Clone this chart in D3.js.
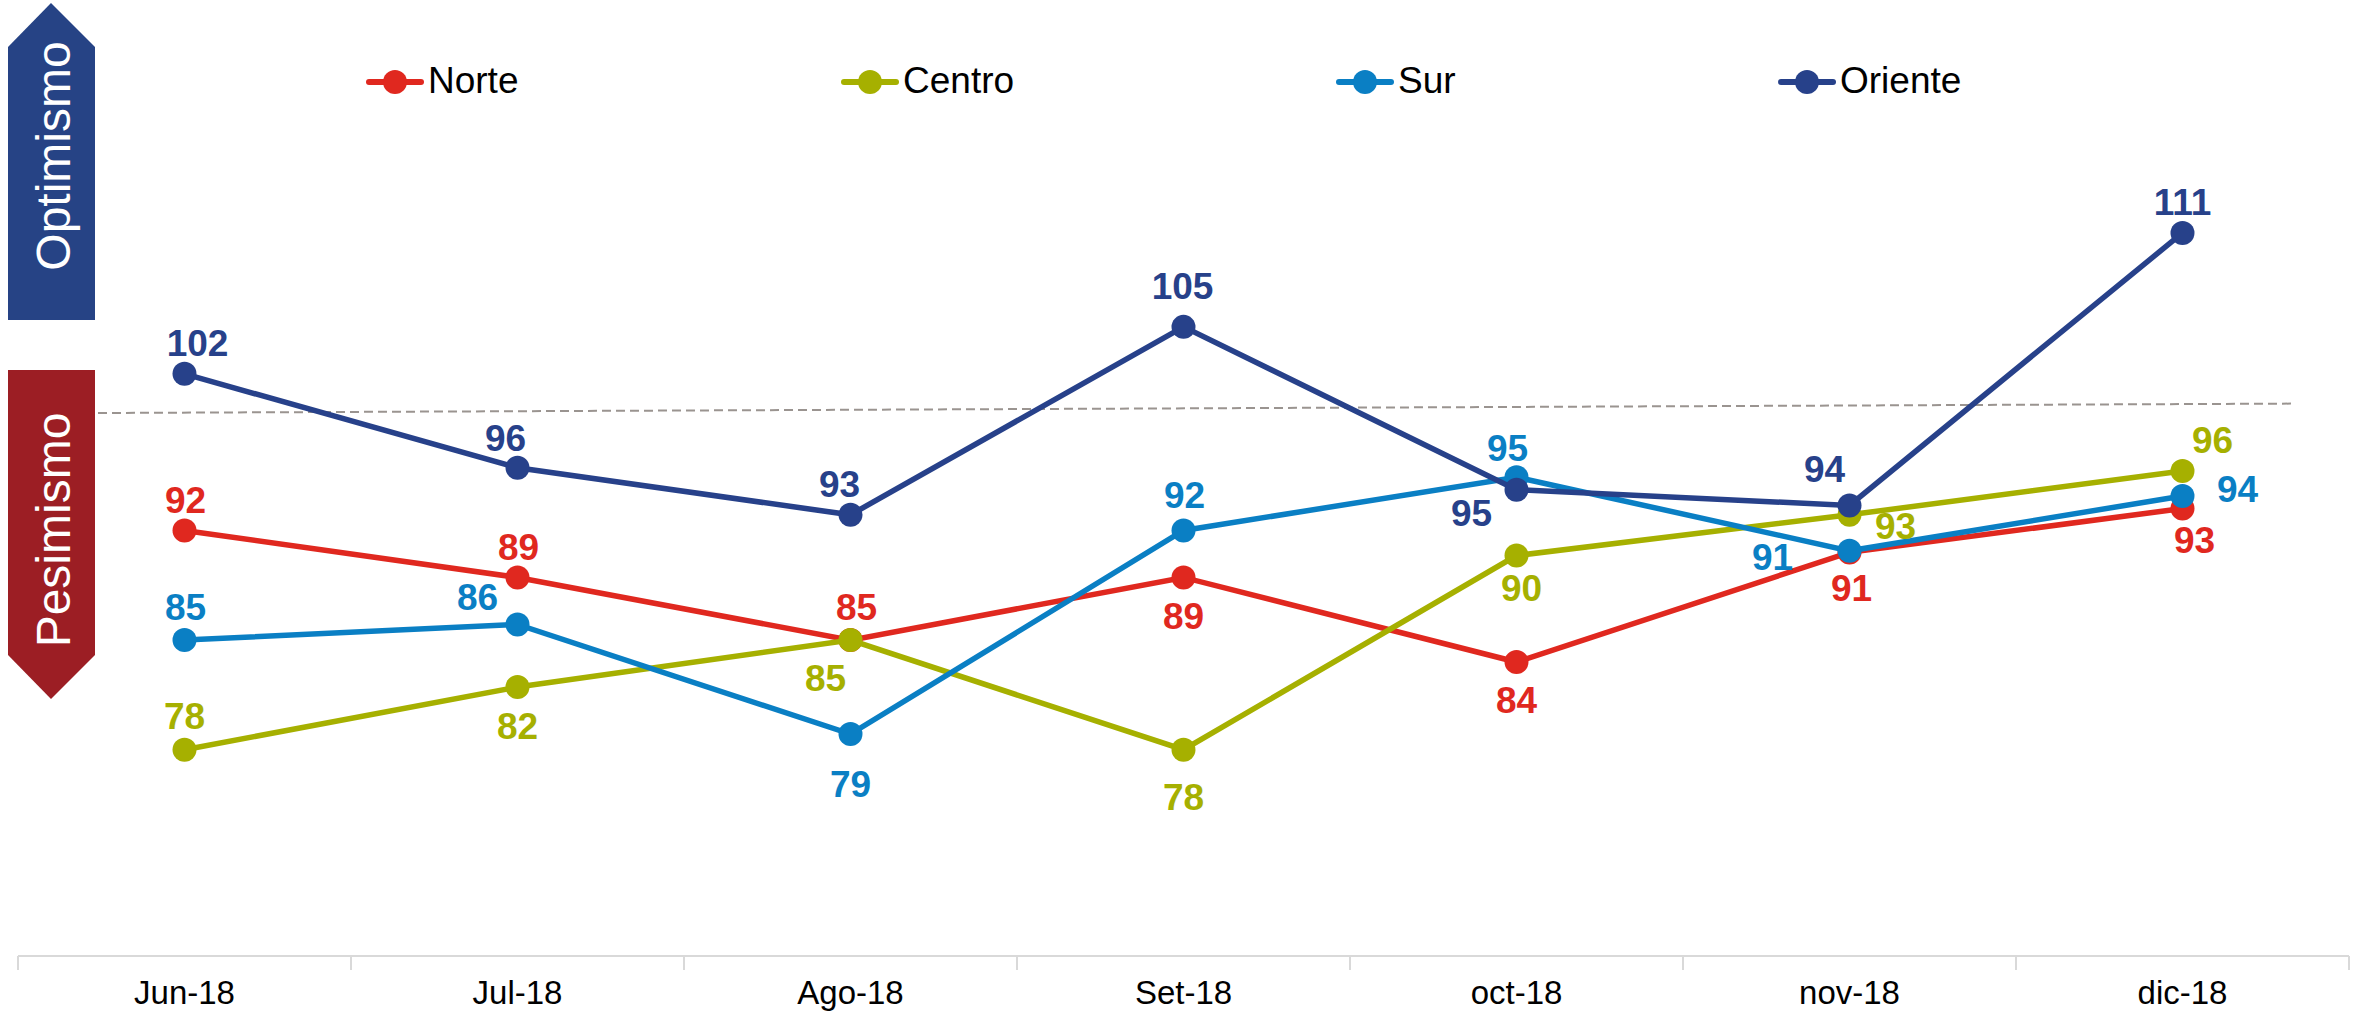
<!DOCTYPE html>
<html>
<head>
<meta charset="utf-8">
<script src="https://cdn.jsdelivr.net/npm/d3@7"></script>
<style>
  body { margin: 0; background: #fff; }
  svg { display: block; }
  text { font-family: "Liberation Sans", Arial, sans-serif; }
  .lbl { font-weight: bold; font-size: 37px; }
</style>
</head>
<body>
<div id="vis"></div>
<script>
const months = ['Jun-18', 'Jul-18', 'Ago-18', 'Set-18', 'oct-18', 'nov-18', 'dic-18'];
const norte = [92, 89, 85, 89, 83.6, 90.6, 93.4];
const centro = [78, 82, 85, 78, 90.4, 93, 95.8];
const sur = [85, 86, 79, 92, 95.4, 90.7, 94.2];
const oriente = [102, 96, 93, 105, 94.6, 93.6, 111];
const seriesNames = ['Norte', 'Centro', 'Sur', 'Oriente'];
const refLine = [99.5, 100.1];

const colors = ['#e0281f', '#a6b000', '#0a7fc4', '#27418a'];

// label placement (dx, dy from the point, px)
const labelOffsets = [
    [[1, -30], [1, -30], [6, -33], [0, 39], [0, 38], [2, 36], [12, 32]],
    [[0, -33], [0, 39], [-25, 38], [0, 48], [5, 33], [46, 12], [30, -30]],
    [[1, -33], [-40, -27], [0, 50], [1, -35], [-9, -29], [-77, 7], [55, -7]],
    [[13, -30], [-12, -29], [-11, -30], [-1, -40], [-45, 24], [-25, -36], [0, -30]]
];

const width = 2356, height = 1012;
const axisY = 956;

const series = [norte, centro, sur, oriente].map((vals, i) => ({
    name: seriesNames[i],
    color: colors[i],
    values: vals.map((v, j) => ({ month: months[j], value: v, off: labelOffsets[i][j] }))
}));

const svg = d3.select('#vis')
    .append('svg')
    .attr('width', width)
    .attr('height', height);

const xScale = d3.scalePoint()
    .domain(months)
    .range([18, 2349])
    .padding(0.5);

const yScale = d3.scaleLinear()
    .domain([64.83, 125.87])
    .range([axisY, 0]);

// side arrows
const arrows = [
    { text: 'Optimismo', color: '#264385', d: 'M8,47 L51,3 L95,47 L95,320 L8,320 Z', cy: 156 },
    { text: 'Pesimismo', color: '#9c1e24', d: 'M8,370 L95,370 L95,655 L51,699 L8,655 Z', cy: 530 }
];
arrows.forEach(a => {
    svg.append('path').attr('d', a.d).attr('fill', a.color);
    svg.append('text')
        .attr('transform', `translate(53,${a.cy}) rotate(-90)`)
        .attr('text-anchor', 'middle')
        .attr('dominant-baseline', 'central')
        .style('font-size', '48px')
        .style('fill', '#fff')
        .text(a.text);
});

// x axis
const step = xScale.step();
const bounds = d3.range(months.length + 1).map(i => 18 + i * step);
svg.append('line')
    .attr('x1', 18).attr('x2', 2349)
    .attr('y1', axisY).attr('y2', axisY)
    .style('stroke', '#d9d9d9').style('stroke-width', 2);
svg.selectAll('.tick')
    .data(bounds)
    .join('line')
    .attr('class', 'tick')
    .attr('x1', d => d).attr('x2', d => d)
    .attr('y1', axisY).attr('y2', axisY + 14)
    .style('stroke', '#d9d9d9').style('stroke-width', 2);
svg.selectAll('.xlab')
    .data(months)
    .join('text')
    .attr('class', 'xlab')
    .attr('x', d => xScale(d))
    .attr('y', 1004)
    .attr('text-anchor', 'middle')
    .style('font-size', '33px')
    .style('fill', '#000')
    .text(d => d);

// reference line
svg.append('line')
    .attr('x1', 98).attr('x2', 2292)
    .attr('y1', yScale(refLine[0])).attr('y2', yScale(refLine[1]))
    .style('stroke', '#9a9490')
    .style('stroke-width', 2)
    .style('stroke-dasharray', '9,5');

const line = d3.line()
    .x(d => xScale(d.month))
    .y(d => yScale(d.value));

const g = svg.selectAll('.series')
    .data(series)
    .join('g')
    .attr('class', 'series');

g.append('path')
    .attr('d', d => line(d.values))
    .style('fill', 'none')
    .style('stroke', d => d.color)
    .style('stroke-width', 5.5);

g.selectAll('circle')
    .data(d => d.values.map(v => ({ ...v, color: d.color })))
    .join('circle')
    .attr('cx', d => xScale(d.month))
    .attr('cy', d => yScale(d.value))
    .attr('r', 12)
    .style('fill', d => d.color);

svg.selectAll('.lblg')
    .data(series)
    .join('g')
    .attr('class', 'lblg')
    .selectAll('text')
    .data(d => d.values.map(v => ({ ...v, color: d.color })))
    .join('text')
    .attr('class', 'lbl')
    .attr('x', d => xScale(d.month) + d.off[0])
    .attr('y', d => yScale(d.value) + d.off[1])
    .attr('text-anchor', 'middle')
    .attr('dominant-baseline', 'central')
    .style('fill', d => d.color)
    .text(d => Math.round(d.value));

// legend
const legendX = [395, 870, 1365, 1807];
const legend = svg.selectAll('.legend')
    .data(series)
    .join('g')
    .attr('class', 'legend')
    .attr('transform', (d, i) => `translate(${legendX[i]},82)`);
legend.append('line')
    .attr('x1', -26).attr('x2', 26)
    .style('stroke', d => d.color)
    .style('stroke-width', 6)
    .style('stroke-linecap', 'round');
legend.append('circle')
    .attr('r', 12)
    .style('fill', d => d.color);
legend.append('text')
    .attr('x', 33)
    .attr('y', 11)
    .style('font-size', '37px')
    .style('fill', '#000')
    .text(d => d.name);
</script>
</body>
</html>
